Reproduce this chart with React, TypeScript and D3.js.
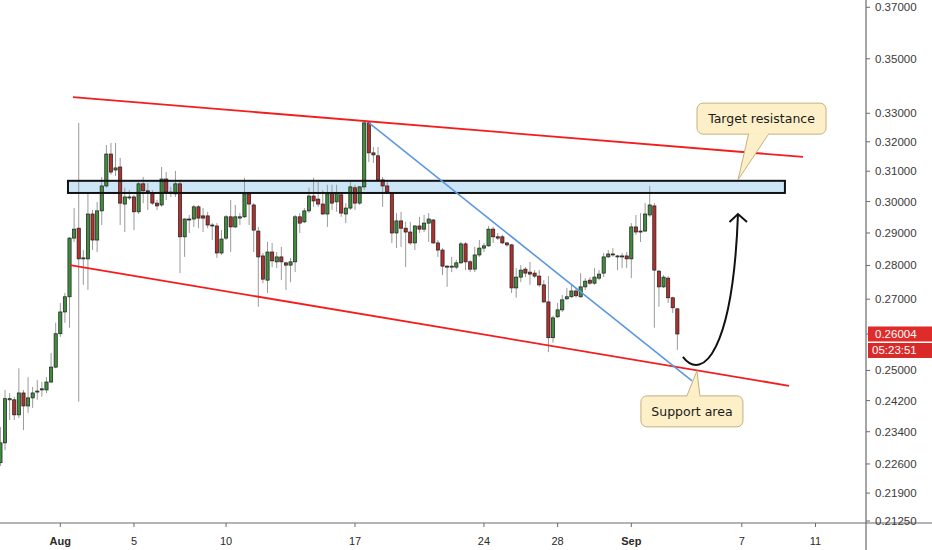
import * as d3 from "d3";

// 6h candles, first one opens 28 Jul 18:00 UTC
const startTime = Date.UTC(2018, 6, 28, 18);
const SIX_H = 6 * 3600 * 1000;

const opens = [
  0.2263, 0.2312, 0.2422, 0.2422, 0.2383, 0.244, 0.2406, 0.2427, 0.2443, 0.2448,
  0.2448, 0.2469, 0.2509, 0.2601, 0.2663, 0.2707, 0.2884, 0.2915, 0.282, 0.282,
  0.296, 0.2878, 0.297, 0.3051, 0.3158, 0.3104, 0.3114, 0.2992, 0.3012, 0.3015,
  0.2967, 0.3058, 0.3035, 0.3028, 0.2995, 0.2989, 0.3074, 0.3031, 0.3025, 0.3058,
  0.2888, 0.2944, 0.2944, 0.2983, 0.2954, 0.2954, 0.2925, 0.2922, 0.2838, 0.2884,
  0.2951, 0.2919, 0.2947, 0.2951, 0.3025, 0.2989, 0.2906, 0.2829, 0.2756, 0.2841,
  0.2811, 0.2826, 0.2808, 0.2801, 0.2811, 0.2951, 0.2935, 0.297, 0.3018, 0.3008,
  0.2992, 0.296, 0.3028, 0.2999, 0.3022, 0.296, 0.2979, 0.3045, 0.2995, 0.3048,
  0.3266, 0.3162, 0.3152, 0.3071, 0.3051, 0.3028, 0.29, 0.2938, 0.2915, 0.2903,
  0.2869, 0.2922, 0.2912, 0.2931, 0.2941, 0.2869, 0.2847, 0.2798, 0.2795, 0.2795,
  0.2808, 0.2866, 0.2811, 0.2789, 0.2832, 0.2853, 0.286, 0.2912, 0.2888, 0.2888,
  0.2869, 0.2863, 0.2733, 0.2765, 0.2789, 0.278, 0.2777, 0.2768, 0.2742, 0.2692,
  0.259, 0.2649, 0.2669, 0.2701, 0.2707, 0.2724, 0.2707, 0.2736, 0.2756, 0.2747,
  0.2762, 0.2777, 0.2826, 0.2835, 0.2829, 0.2829, 0.2829, 0.282, 0.2919, 0.2906,
  0.2906, 0.2957, 0.2986, 0.2783, 0.2736, 0.2762, 0.2704, 0.2672,
];
const highs = [
  0.2352, 0.2448, 0.244, 0.243, 0.2506, 0.2448, 0.2482, 0.2456, 0.2474, 0.2469,
  0.2482, 0.2548, 0.2632, 0.2689, 0.2718, 0.2887, 0.2979, 0.3266, 0.2847, 0.3028,
  0.2973, 0.2999, 0.3081, 0.3189, 0.3196, 0.3196, 0.3145, 0.3045, 0.3038, 0.3022,
  0.3064, 0.3081, 0.3061, 0.3038, 0.3005, 0.3114, 0.3097, 0.3048, 0.3101, 0.3071,
  0.2947, 0.2957, 0.2989, 0.2989, 0.2979, 0.2967, 0.2931, 0.2931, 0.2909, 0.2957,
  0.3005, 0.2989, 0.2963, 0.3078, 0.3031, 0.2995, 0.2919, 0.2838, 0.2872, 0.2869,
  0.2841, 0.2857, 0.2811, 0.2823, 0.2957, 0.2963, 0.2979, 0.3045, 0.3078, 0.3064,
  0.3038, 0.3055, 0.3055, 0.3055, 0.3028, 0.2995, 0.3064, 0.3055, 0.3051, 0.3269,
  0.3269, 0.3182, 0.3182, 0.3081, 0.3064, 0.3031, 0.2963, 0.2967, 0.2935, 0.2935,
  0.2925, 0.2951, 0.2957, 0.2963, 0.2944, 0.2878, 0.2853, 0.2801, 0.2826, 0.2817,
  0.2872, 0.2872, 0.2817, 0.2857, 0.2878, 0.2869, 0.2922, 0.2919, 0.29, 0.2894,
  0.2872, 0.2866, 0.2792, 0.2801, 0.2795, 0.2811, 0.2786, 0.2786, 0.2756, 0.2768,
  0.2652, 0.2689, 0.2712, 0.2733, 0.2742, 0.2733, 0.2777, 0.2762, 0.2765, 0.2792,
  0.2786, 0.2838, 0.2847, 0.2853, 0.2832, 0.2838, 0.2841, 0.2931, 0.2957, 0.2963,
  0.2995, 0.3051, 0.2995, 0.2786, 0.2771, 0.2768, 0.2707, 0.2672,
];
const lows = [
  0.2255, 0.2294, 0.237, 0.237, 0.2375, 0.2344, 0.2388, 0.2401, 0.2422, 0.243,
  0.244, 0.2466, 0.2506, 0.2592, 0.2632, 0.2618, 0.2872, 0.2417, 0.2742, 0.2727,
  0.2847, 0.2841, 0.2925, 0.3045, 0.3088, 0.3084, 0.2925, 0.2903, 0.3005, 0.2909,
  0.296, 0.2995, 0.2973, 0.2989, 0.2973, 0.2983, 0.3005, 0.3015, 0.3015, 0.2777,
  0.2826, 0.29, 0.2919, 0.2915, 0.2903, 0.2915, 0.2878, 0.2823, 0.2832, 0.2878,
  0.2841, 0.2915, 0.2925, 0.2947, 0.2925, 0.2841, 0.2678, 0.2747, 0.2718, 0.2795,
  0.2792, 0.2756, 0.2727, 0.275, 0.278, 0.29, 0.2931, 0.2963, 0.2983, 0.2983,
  0.2957, 0.2919, 0.2973, 0.2967, 0.2951, 0.2931, 0.2973, 0.2973, 0.2989, 0.3038,
  0.3131, 0.3128, 0.3064, 0.2983, 0.3028, 0.2869, 0.2853, 0.2857, 0.2795, 0.2863,
  0.2847, 0.29, 0.2903, 0.2872, 0.2866, 0.2826, 0.2771, 0.2736, 0.278, 0.2789,
  0.2804, 0.2786, 0.278, 0.278, 0.2826, 0.2841, 0.2857, 0.2869, 0.2878, 0.2866,
  0.2857, 0.2718, 0.2704, 0.275, 0.2765, 0.2742, 0.2762, 0.2736, 0.2689, 0.255,
  0.2576, 0.2646, 0.2663, 0.2698, 0.2704, 0.2704, 0.2704, 0.2727, 0.2742, 0.2742,
  0.2756, 0.2765, 0.2823, 0.2826, 0.2786, 0.2792, 0.2792, 0.2762, 0.2894, 0.2872,
  0.2903, 0.2951, 0.2618, 0.2678, 0.2733, 0.2689, 0.266, 0.2556,
];
const closes = [
  0.2312, 0.2425, 0.2425, 0.2383, 0.244, 0.2406, 0.2427, 0.244, 0.2445, 0.2451,
  0.2469, 0.2509, 0.2601, 0.2663, 0.2707, 0.2884, 0.2912, 0.282, 0.2823, 0.296,
  0.2878, 0.297, 0.3051, 0.3158, 0.3097, 0.3111, 0.2995, 0.3015, 0.3015, 0.2967,
  0.3058, 0.3035, 0.3031, 0.2995, 0.2986, 0.3074, 0.3031, 0.3028, 0.3058, 0.2888,
  0.2944, 0.2941, 0.2983, 0.2947, 0.2947, 0.2925, 0.2922, 0.2838, 0.2881, 0.2951,
  0.2919, 0.2951, 0.2951, 0.3025, 0.2992, 0.2909, 0.2826, 0.2759, 0.2841, 0.2814,
  0.2826, 0.2811, 0.2801, 0.2811, 0.2951, 0.2931, 0.297, 0.3018, 0.3002, 0.2992,
  0.296, 0.3025, 0.2995, 0.3028, 0.2963, 0.2979, 0.3048, 0.2995, 0.3048, 0.3266,
  0.3162, 0.3155, 0.3071, 0.3051, 0.3031, 0.29, 0.2938, 0.2915, 0.2903, 0.2869,
  0.2922, 0.2912, 0.2931, 0.2944, 0.2869, 0.2847, 0.2798, 0.2795, 0.2798, 0.2808,
  0.2866, 0.2811, 0.2789, 0.2832, 0.2853, 0.286, 0.2912, 0.2888, 0.2884, 0.2869,
  0.2863, 0.2733, 0.2765, 0.2786, 0.2777, 0.2774, 0.2768, 0.2742, 0.2692, 0.259,
  0.2646, 0.2669, 0.2698, 0.2707, 0.2724, 0.271, 0.2736, 0.2753, 0.2747, 0.2765,
  0.2774, 0.2826, 0.2835, 0.2832, 0.2829, 0.2829, 0.282, 0.2919, 0.2903, 0.2906,
  0.296, 0.2989, 0.2786, 0.2736, 0.2765, 0.2704, 0.2675, 0.26004,
];

const priceTicks = [
  0.37, 0.35, 0.33, 0.32, 0.31, 0.3, 0.29, 0.28, 0.27, 0.25, 0.242, 0.234,
  0.226, 0.219, 0.2125,
];
const dateTicks = [
  "2018-08-01", "2018-08-05", "2018-08-10", "2018-08-17", "2018-08-24",
  "2018-08-28", "2018-09-01", "2018-09-07", "2018-09-11",
];
const dateTickLabels = ["Aug", "5", "10", "17", "24", "28", "Sep", "7", "11"];
const countdown = "05:23:51";

// drawings: [time, price]
const upperChannel: [string, number][] = [["2018-08-01T16:30Z", 0.3358], ["2018-09-10T07:40Z", 0.3148]];
const lowerChannel: [string, number][] = [["2018-08-01T12:40Z", 0.2801], ["2018-09-09T13:30Z", 0.2459]];
const blueTrend: [string, number][] = [["2018-08-17T18:15Z", 0.3266], ["2018-09-04T07:10Z", 0.2472]];
const zoneTimes = ["2018-08-01T10:00Z", "2018-09-09T08:10Z"];
const zonePrices = [0.3068, 0.3028];
const projection: [string, number][] = [
  ["2018-09-03T19:10Z", 0.2537],
  ["2018-09-04T21:20Z", 0.2467],
  ["2018-09-06T12:30Z", 0.2556],
  ["2018-09-06T19:00Z", 0.296],
];
const callouts = [
  { text: "Target resistance", center: ["2018-09-08T01:40Z", 0.3281], w: 129, tip: ["2018-09-06T19:00Z", 0.3071], base: [-13, 7] },
  { text: "Support area", center: ["2018-09-04T07:00Z", 0.2392], w: 102, tip: ["2018-09-04T13:30Z", 0.2499], base: [-5, 8] },
];

export default function App() {
  const W = 932;
  const H = 550;
  const axisX = 866;
  const axisY = 523;

  const x = d3
    .scaleUtc()
    .domain([new Date(Date.UTC(2018, 7, 1)), new Date(Date.UTC(2018, 8, 11))])
    .range([60.3, 815.5]);
  const y = d3.scaleLog().domain([0.2125, 0.37]).range([521, 7.3]);
  const px = (d: [string, number] | (string | number)[]) =>
    [x(new Date(d[0] as string)), y(d[1] as number)] as [number, number];

  const candles = opens.map((o, i) => ({
    t: new Date(startTime + i * SIX_H),
    o,
    h: Math.max(highs[i], o, closes[i]),
    l: Math.min(lows[i], o, closes[i]),
    c: closes[i],
  }));
  const bodyW = 3.2;
  const last = candles[candles.length - 1];
  const lastY = y(last.c);

  const line = d3.line();
  const [p0, p1, p2, p3] = projection.map(px);
  const curve = `M${p0[0]},${p0[1]} C${p1[0]},${p1[1]} ${p2[0]},${p2[1]} ${p3[0]},${p3[1]}`;

  const zx0 = x(new Date(zoneTimes[0]));
  const zx1 = x(new Date(zoneTimes[1]));
  const zy0 = y(zonePrices[0]);
  const zy1 = y(zonePrices[1]);

  return (
    <svg
      width={W}
      height={H}
      style={{ position: "absolute", left: 0, top: 0, background: "#fff" }}
      fontFamily="'Liberation Sans', Arial, sans-serif"
    >
      <defs>
        <clipPath id="plot">
          <rect x={0} y={0} width={axisX} height={axisY} />
        </clipPath>
      </defs>

      <g clipPath="url(#plot)">
        {/* resistance zone fill */}
        <rect x={zx0} y={zy0} width={zx1 - zx0} height={zy1 - zy0} fill="#cde6f7" />

        {/* candles */}
        {candles.map((d, i) => {
          const cx = x(d.t);
          const up = d.c >= d.o;
          const top = y(Math.max(d.o, d.c));
          const bot = y(Math.min(d.o, d.c));
          return (
            <g key={i}>
              <line x1={cx} x2={cx} y1={y(d.h)} y2={y(d.l)} stroke="#9a9a9a" strokeWidth={1} />
              <rect
                x={cx - bodyW / 2}
                y={top}
                width={bodyW}
                height={Math.max(1, bot - top)}
                fill={up ? "#3f8d3c" : "#b0302d"}
                stroke="#1d1d1d"
                strokeWidth={0.7}
              />
            </g>
          );
        })}

        {/* zone border */}
        <rect
          x={zx0}
          y={zy0}
          width={zx1 - zx0}
          height={zy1 - zy0}
          fill="none"
          stroke="#111"
          strokeWidth={2}
        />

        {/* channel and trend lines */}
        <path d={line(upperChannel.map(px)) ?? ""} stroke="#f41c1c" strokeWidth={1.8} fill="none" />
        <path d={line(lowerChannel.map(px)) ?? ""} stroke="#f41c1c" strokeWidth={1.8} fill="none" />
        <path d={line(blueTrend.map(px)) ?? ""} stroke="#5a98e0" strokeWidth={1.6} fill="none" />

        {/* projected move */}
        <path d={curve} stroke="#111" strokeWidth={2} fill="none" />
        <path
          d={`M${p3[0] - 8.5},${p3[1] + 8} L${p3[0]},${p3[1]} L${p3[0] + 9},${p3[1] + 8}`}
          stroke="#111"
          strokeWidth={2}
          fill="none"
        />

        {/* callouts */}
        {callouts.map((c) => {
          const [cx, cy] = px(c.center);
          const [tx, ty] = px(c.tip);
          const h = 31;
          const bx0 = cx - c.w / 2;
          const by0 = cy - h / 2;
          const edgeY = ty < by0 ? by0 : by0 + h;
          return (
            <g key={c.text}>
              <rect x={bx0} y={by0} width={c.w} height={h} rx={6} fill="#fdf0c8" stroke="#c4b07e" strokeWidth={1} />
              <path
                d={`M${cx + c.base[0]},${edgeY} L${tx},${ty} L${cx + c.base[1]},${edgeY}`}
                fill="#fdf0c8"
                stroke="#c4b07e"
                strokeWidth={1}
              />
              <line
                x1={cx + c.base[0] + 0.6}
                x2={cx + c.base[1] - 0.6}
                y1={edgeY}
                y2={edgeY}
                stroke="#fdf0c8"
                strokeWidth={2}
              />
              <text
                x={cx}
                y={cy}
                textAnchor="middle"
                dominantBaseline="central"
                fontFamily="'DejaVu Sans', Verdana, sans-serif"
                fontSize={12.5}
                fill="#1a1a1a"
              >
                {c.text}
              </text>
            </g>
          );
        })}
      </g>

      {/* axes */}
      <line x1={axisX} x2={axisX} y1={0} y2={H} stroke="#6b6b6b" strokeWidth={1.2} />
      <line x1={0} x2={W} y1={axisY} y2={axisY} stroke="#6b6b6b" strokeWidth={1.2} />

      {priceTicks.map((p) => (
        <g key={p}>
          <line x1={axisX} x2={axisX + 4} y1={y(p)} y2={y(p)} stroke="#6b6b6b" />
          <text x={axisX + 9} y={y(p)} dominantBaseline="central" fontSize={11.5} fill="#3a3a3a">
            {p.toFixed(5)}
          </text>
        </g>
      ))}

      {dateTicks.map((d, i) => {
        const tx = x(new Date(d + "T00:00Z"));
        const bold = isNaN(Number(dateTickLabels[i]));
        return (
          <g key={d}>
            <line x1={tx} x2={tx} y1={axisY} y2={axisY + 4} stroke="#6b6b6b" />
            <text
              x={tx}
              y={541}
              textAnchor="middle"
              dominantBaseline="central"
              fontSize={11}
              fontWeight={bold ? "bold" : "normal"}
              fill="#2a2a2a"
            >
              {dateTickLabels[i]}
            </text>
          </g>
        );
      })}

      {/* last price and countdown */}
      <line x1={axisX} x2={axisX + 4} y1={lastY} y2={lastY} stroke="#6b6b6b" />
      <rect x={axisX + 2} y={lastY - 7.5} width={W - axisX - 2} height={15} fill="#e02b2b" />
      <text x={axisX + 9} y={lastY} dominantBaseline="central" fontSize={11.5} fill="#fff">
        {last.c.toFixed(5)}
      </text>
      <rect x={axisX + 2} y={lastY + 9} width={W - axisX - 2} height={15} fill="#d92a2a" />
      <text x={axisX + 6} y={lastY + 16.5} dominantBaseline="central" fontSize={11.5} fill="#fff">
        {countdown}
      </text>
    </svg>
  );
}
